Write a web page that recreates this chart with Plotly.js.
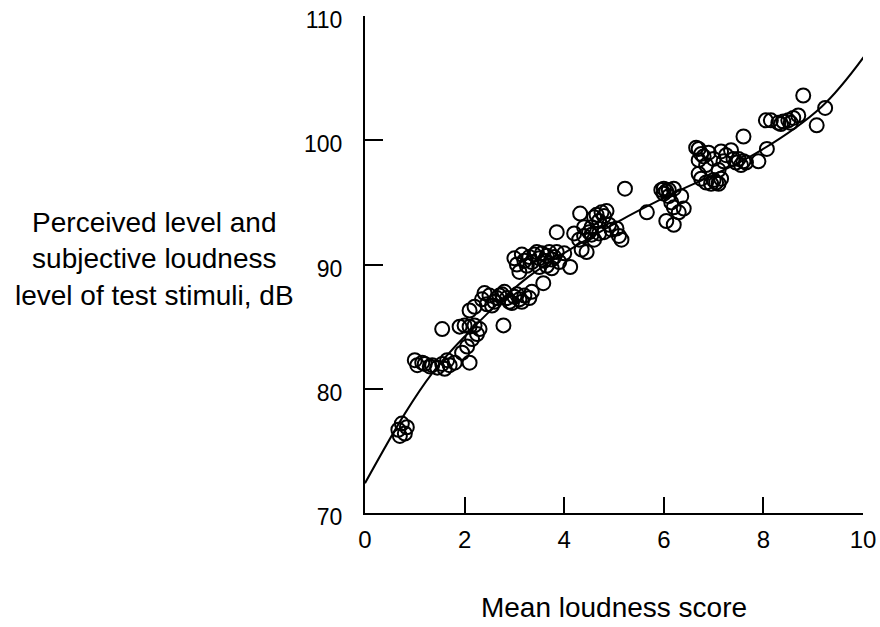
<!DOCTYPE html>
<html>
<head>
<meta charset="utf-8">
<script src="https://cdn.plot.ly/plotly-3.0.1.min.js"></script>
<style>html,body{margin:0;padding:0;background:#fff;}#chart{width:880px;height:627px;}</style>
</head>
<body>
<div id="chart"></div>
<script>
// Scatter data: mean loudness score (x) vs perceived level (dB, y)
const scoreX = [
  0.74,0.67,0.80,0.70,0.84,
  1.00,1.05,1.20,1.30,1.45,1.55,1.60,1.70,1.80,1.65,1.35,1.15,2.10,1.95,2.05,
  1.55,1.90,2.00,2.10,2.20,2.30,2.15,2.25,
  2.10,2.20,2.35,2.40,2.50,2.60,2.65,2.75,2.80,2.85,2.90,3.00,3.05,3.10,3.20,3.30,3.35,2.45,2.55,2.95,3.15,2.70,2.78,3.58,
  3.00,3.05,3.10,3.15,3.20,3.30,3.35,3.40,3.45,3.50,3.55,3.60,3.65,3.70,3.75,3.80,3.85,3.90,3.65,3.75,3.25,3.50,4.00,4.12,
  3.85,4.32,4.20,4.30,4.35,4.40,4.45,4.50,4.55,4.60,4.65,4.70,4.75,4.80,4.85,4.90,4.70,4.60,4.80,4.95,5.05,5.10,5.15,4.55,4.40,5.22,5.66,
  5.95,6.00,6.05,6.10,6.20,6.00,6.10,6.15,6.35,6.20,6.30,6.05,6.20,6.40,
  6.65,6.70,6.75,6.70,6.80,6.85,6.70,6.75,6.85,6.95,7.00,7.05,7.10,7.15,7.10,7.20,7.00,6.90,7.15,
  7.25,7.35,7.45,7.50,7.55,7.60,7.60,7.40,7.65,8.07,7.90,
  8.05,8.15,8.30,8.40,8.50,8.60,8.55,8.35,8.80,8.70,9.24,9.07
];
const levelY = [
  77.2,76.7,76.4,76.2,76.9,
  82.3,81.9,82.0,81.8,81.7,82.0,81.6,81.9,82.1,82.3,81.9,82.1,82.1,82.9,83.4,
  84.8,85.0,85.1,85.0,85.1,84.8,84.0,84.4,
  86.3,86.6,87.2,87.7,87.5,87.0,87.3,87.6,87.8,87.3,87.0,87.4,87.6,87.2,87.5,87.3,87.8,86.8,86.7,86.9,87.0,87.5,85.1,88.5,
  90.5,90.0,89.4,90.8,90.3,90.6,90.2,90.8,91.0,90.5,90.9,90.3,90.7,91.0,90.4,90.6,91.0,90.2,89.9,89.7,89.9,89.8,90.9,89.8,
  92.6,94.1,92.5,92.0,91.2,92.3,91.0,92.6,93.0,93.8,94.0,93.5,94.2,93.9,94.3,93.2,92.5,92.0,92.6,92.8,92.9,92.3,92.0,92.4,93.0,96.1,94.2,
  96.0,96.1,95.9,96.0,96.1,95.7,95.5,95.0,95.5,94.6,94.2,93.5,93.2,94.5,
  99.4,99.3,98.9,98.4,98.7,98.0,97.3,96.9,96.6,96.5,96.8,96.6,96.5,96.9,97.6,98.3,98.5,99.0,99.1,
  98.8,99.2,98.2,98.5,98.0,98.3,100.3,98.5,98.2,99.3,98.3,
  101.6,101.6,101.4,101.5,101.6,101.8,101.4,101.3,103.6,102.0,102.6,101.2
];
// Fitted curve, points
const curveX = [0.00,0.80,1.34,2.00,3.28,5.15,6.02,7.83,9.17,10.07];
const curveY = [72.4,78.0,81.2,84.2,89.0,93.6,95.4,98.9,102.7,107.0];
// Tick labels
const xTicks = [0,2,4,6,8,10];
const yTicks = [70,80,90,100,110];

const FONT = 'Liberation Sans, Arial, Helvetica, sans-serif';

const traces = [
  {
    x: scoreX, y: levelY, type: 'scatter', mode: 'markers',
    marker: {symbol: 'circle-open', size: 14, color: '#000', line: {width: 2, color: '#000'}},
    hoverinfo: 'x+y', showlegend: false, cliponaxis: false
  },
  {
    x: curveX, y: curveY, type: 'scatter', mode: 'lines',
    line: {color: '#000', width: 2, shape: 'spline', smoothing: 1},
    showlegend: false, cliponaxis: false
  }
];

const layout = {
  width: 880, height: 627,
  margin: {l: 365, r: 17, t: 16, b: 114},
  paper_bgcolor: '#fff', plot_bgcolor: '#fff',
  font: {family: FONT, color: '#000', size: 22},
  showlegend: false,
  xaxis: {
    range: [0, 10], tickvals: xTicks, ticktext: xTicks.map(String),
    showline: true, linecolor: '#000', linewidth: 2,
    ticks: 'inside', ticklen: 16, tickwidth: 2, tickcolor: '#000',
    showgrid: false, zeroline: false, mirror: false,
    ticklabelstandoff: 4,
    tickfont: {family: FONT, size: 24, color: '#000'},
    title: {text: 'Mean loudness score', font: {family: FONT, size: 28, color: '#000'}, standoff: 46}
  },
  yaxis: {
    range: [70, 110], tickvals: yTicks, ticktext: yTicks.map(String),
    showline: true, linecolor: '#000', linewidth: 2,
    ticks: 'inside', ticklen: 18, tickwidth: 2, tickcolor: '#000',
    showgrid: false, zeroline: false, mirror: false,
    ticklabelstandoff: 16, ticklabelshift: 4,
    tickfont: {family: FONT, size: 23, color: '#000'}
  },
  annotations: [{
    text: 'Perceived level and<br>subjective loudness<br>level of test stimuli, dB',
    xref: 'paper', yref: 'paper', x: -0.422, y: 0.511,
    xanchor: 'center', yanchor: 'middle', align: 'center', showarrow: false,
    font: {family: FONT, size: 28, color: '#000'}
  }]
};

Plotly.newPlot('chart', traces, layout, {displayModeBar: false, staticPlot: true});
</script>
</body>
</html>
